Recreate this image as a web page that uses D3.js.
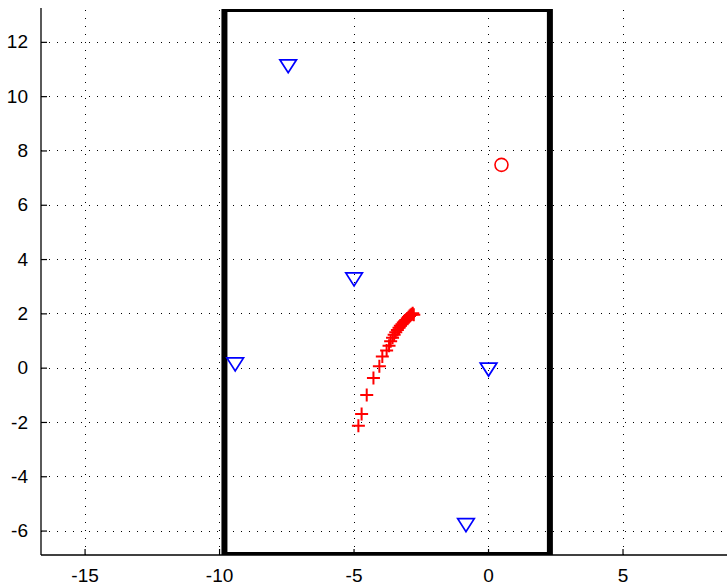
<!DOCTYPE html>
<html>
<head>
<meta charset="utf-8">
<script src="https://cdn.jsdelivr.net/npm/d3@7"></script>
<style>
  html, body { margin: 0; padding: 0; background: #fff; }
  svg { display: block; }
</style>
</head>
<body>
<div id="chart"></div>
<script>
// ---- data ----
const xTicks = [-15, -10, -5, 0, 5];
const yTicks = [-6, -4, -2, 0, 2, 4, 6, 8, 10, 12];

const triX = [-7.43, -4.98, -9.4, 0.02, -0.82];
const triY = [11.1, 3.25, 0.12, -0.07, -5.8];

const circX = [0.5];
const circY = [7.47];

const plusX = [-4.82, -4.70, -4.51, -4.26, -4.04, -3.93, -3.77, -3.68, -3.62, -3.55, -3.49, -3.43, -3.37, -3.31, -3.26, -3.20, -3.15, -3.10, -3.05, -3.00, -2.96, -2.92, -2.88, -2.84, -2.80, -2.76];
const plusY = [-2.14, -1.71, -1.01, -0.38, 0.05, 0.41, 0.63, 0.81, 0.97, 1.10, 1.21, 1.30, 1.39, 1.47, 1.54, 1.60, 1.66, 1.71, 1.76, 1.81, 1.86, 1.90, 1.94, 1.97, 2.00, 1.95];

const rectX = [-9.8, 2.3];

const xDomain = [-16.62, 10];
const yDomain = [-6.9, 13.21];

// ---- layout ----
const W = 727, H = 588;
const mLeft = 41, mRight = 757, mTop = 9, mBottom = 555;

const x = d3.scaleLinear().domain(xDomain).range([mLeft, mRight]);
const y = d3.scaleLinear().domain(yDomain).range([mBottom, mTop]);

const svg = d3.select("#chart").append("svg")
  .attr("width", W).attr("height", H)
  .style("font-family", "'Liberation Sans', Arial, sans-serif");

svg.append("defs").append("clipPath").attr("id", "plotclip")
  .append("rect").attr("x", mLeft).attr("y", mTop)
  .attr("width", mRight - mLeft).attr("height", mBottom - mTop);

// grid
const grid = svg.append("g").attr("shape-rendering", "crispEdges");
grid.selectAll("line.gx").data(xTicks).join("line").attr("class", "gx")
  .attr("x1", d => Math.round(x(d)) + 0.5).attr("x2", d => Math.round(x(d)) + 0.5)
  .attr("y1", mBottom).attr("y2", mTop)
  .attr("stroke", "#000").attr("stroke-width", 1).attr("stroke-dasharray", "1.3,6.7");
grid.selectAll("line.gy").data(yTicks).join("line").attr("class", "gy")
  .attr("y1", d => Math.round(y(d)) + 0.5).attr("y2", d => Math.round(y(d)) + 0.5)
  .attr("x1", mLeft).attr("x2", mRight)
  .attr("stroke", "#000").attr("stroke-width", 1).attr("stroke-dasharray", "1.3,6.7");

// thick rectangle (clipped at axes limits)
svg.append("g").attr("clip-path", "url(#plotclip)")
  .append("rect")
  .attr("x", x(rectX[0])).attr("y", y(yDomain[1]))
  .attr("width", x(rectX[1]) - x(rectX[0]))
  .attr("height", y(yDomain[0]) - y(yDomain[1]))
  .attr("fill", "none").attr("stroke", "#000").attr("stroke-width", 6);

// axes
const xAxis = d3.axisBottom(x).tickValues(xTicks).tickSizeInner(-6).tickSizeOuter(0).tickPadding(14).tickFormat(d3.format("d"));
const yAxis = d3.axisLeft(y).tickValues(yTicks).tickSizeInner(-6).tickSizeOuter(0).tickPadding(13).tickFormat(d3.format("d"));

const gx = svg.append("g").attr("transform", `translate(0,${mBottom})`).call(xAxis);
const gy = svg.append("g").attr("transform", `translate(${mLeft},0)`).call(yAxis);
[gx, gy].forEach(g => {
  g.select(".domain").attr("stroke", "#000").attr("stroke-width", 1.3);
  g.selectAll(".tick line").attr("stroke", "#000").attr("stroke-width", 1.2);
  g.selectAll(".tick text").attr("fill", "#000").style("font-size", "19px")
    .style("font-family", "'Liberation Sans', Arial, sans-serif")
    .text(d => String(d).replace("\u2212", "-"));
});
gx.select(".domain").attr("d", `M${mLeft},0H${mRight}`);
gy.select(".domain").attr("d", `M0,${mTop - 1}V${mBottom}`);

// markers
const marks = svg.append("g");

// red plus trail
const plusData = plusX.map((v, i) => [v, plusY[i]]);
const ps = 6.5;
marks.selectAll("path.plus").data(plusData).join("path").attr("class", "plus")
  .attr("d", d => {
    const cx = x(d[0]), cy = y(d[1]);
    return `M${cx - ps},${cy}H${cx + ps}M${cx},${cy - ps}V${cy + ps}`;
  })
  .attr("stroke", "#ff0000").attr("stroke-width", 2).attr("fill", "none");

// red circle
marks.selectAll("circle.c").data(circX.map((v, i) => [v, circY[i]])).join("circle").attr("class", "c")
  .attr("cx", d => x(d[0])).attr("cy", d => y(d[1])).attr("r", 6.5)
  .attr("fill", "none").attr("stroke", "#ff0000").attr("stroke-width", 1.6);

// blue down triangles
const tw = 8.3, th = 6.5;
marks.selectAll("path.tri").data(triX.map((v, i) => [v, triY[i]])).join("path").attr("class", "tri")
  .attr("d", d => {
    const cx = x(d[0]), cy = y(d[1]);
    return `M${cx - tw},${cy - th}L${cx + tw},${cy - th}L${cx},${cy + th}Z`;
  })
  .attr("fill", "none").attr("stroke", "#0000ff").attr("stroke-width", 1.7)
  .attr("stroke-linejoin", "miter");
</script>
</body>
</html>
